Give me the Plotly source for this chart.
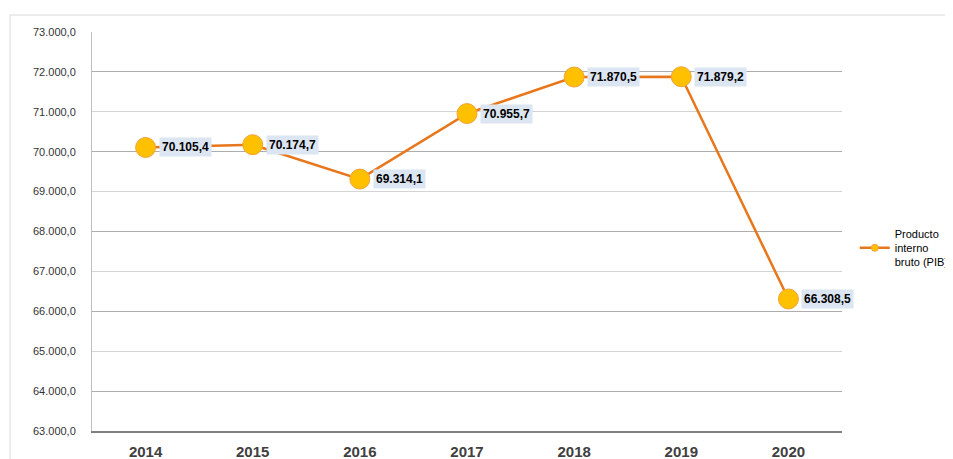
import plotly.graph_objects as go

years = ["2014", "2015", "2016", "2017", "2018", "2019", "2020"]
pib = [70105.4, 70174.7, 69314.1, 70955.7, 71870.5, 71879.2, 66308.5]
label_texts = ["70.105,4", "70.174,7", "69.314,1", "70.955,7", "71.870,5", "71.879,2", "66.308,5"]
series_name = "Producto<br>interno<br>bruto (PIB)"

fig = go.Figure()
# invisible helper trace on overlay axis (for alternating darker gridlines)
fig.add_trace(go.Scatter(
    x=years, y=pib, mode="lines", yaxis="y2", showlegend=False, hoverinfo="skip",
    line=dict(color="rgba(0,0,0,0)", width=0),
))
fig.add_trace(go.Scatter(
    x=years, y=pib, mode="lines+markers", name=series_name, showlegend=False,
    line=dict(color="#E8761A", width=2.5),
    marker=dict(size=20, color="#FFC000", line=dict(color="#F2A33A", width=1)),
))
fig.add_trace(go.Scatter(
    x=[None], y=[None], mode="lines+markers", name=series_name, showlegend=True,
    line=dict(color="#E8761A", width=2.5),
    marker=dict(size=7, color="#FFC000", line=dict(color="#F2A33A", width=1)),
))

for i, (y, t) in enumerate(zip(pib, label_texts)):
    fig.add_annotation(
        x=i, y=y, xref="x", yref="y", text="<b>" + t + "</b>", showarrow=False,
        xanchor="left", yanchor="middle", xshift=13,
        font=dict(family="Liberation Sans, Arial", size=12, color="#000000"),
        bgcolor="#DCE6F2", borderpad=2,
    )

fig.add_shape(type="rect", xref="paper", yref="paper",
              x0=-0.1093, y0=-0.2, x1=1.3, y1=1.0426,
              line=dict(color="#D9D9D9", width=1), fillcolor="rgba(0,0,0,0)", layer="below")

fig.update_layout(
    width=945, height=451,
    margin=dict(l=84, r=111, t=24, b=28, autoexpand=False),
    paper_bgcolor="white", plot_bgcolor="white",
    separators=",.",
    font=dict(family="Liberation Sans, Arial", color="#404040"),
    showlegend=True,
    legend=dict(x=1.017, y=0.459, xanchor="left", yanchor="middle",
                font=dict(size=11, color="#000000"), bgcolor="rgba(0,0,0,0)",
                itemwidth=30, tracegroupgap=0),
    xaxis=dict(type="category", showgrid=False, showline=True, linecolor="#7F7F7F", linewidth=2,
               tickfont=dict(size=15, color="#404040", family="Liberation Sans, Arial"),
               tickprefix="<b>", ticksuffix="</b>", ticks="", range=[-0.5, 6.5],
               ticklabelstandoff=6),
    yaxis=dict(range=[63000, 73000], dtick=1000, tickformat=",.1f",
               showgrid=True, gridcolor="#D4D4D4", gridwidth=1,
               showline=True, linecolor="#BFBFBF", linewidth=1,
               tickfont=dict(size=11, color="#333333"), ticks="", zeroline=False,
               ticklabelstandoff=13),
    yaxis2=dict(range=[63000, 73000], dtick=2000, tick0=64000, overlaying="y", side="left",
                showgrid=True, gridcolor="#ADADAD", gridwidth=1, showticklabels=False,
                showline=False, ticks="", zeroline=False),
)

fig.write_html("out.html")
